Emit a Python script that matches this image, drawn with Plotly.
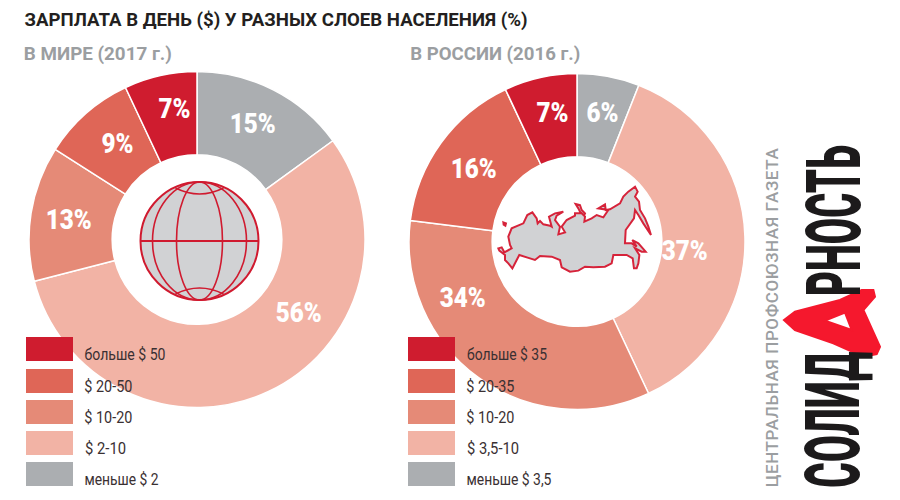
import json
import plotly.graph_objects as go

W = 900
H = 500

slice_colors = ["#abaeb1", "#f2b3a5", "#e58a77", "#df6657", "#cf1c2f"]
world_values = [15, 56, 13, 9, 7]
russia_values = [6, 37, 34, 16, 7]
world_legend = ["больше $ 50", "$ 20-50", "$ 10-20", "$ 2-10", "меньше $ 2"]
russia_legend = ["больше $ 35", "$ 20-35", "$ 10-20", "$ 3,5-10", "меньше $ 3,5"]
legend_colors = ["#cf1c2f", "#df6657", "#e58a77", "#f2b3a5", "#abaeb1"]

FONT = "Roboto"
RED = "#d01a2f"


def px(x):
    return x / W


def py(y):
    return 1 - y / H


def zoomed(points, left, top):
    return [(left + x / 3, top + y / 3) for x, y in points]


def path_from(points):
    out = []
    for i, (x, y) in enumerate(points):
        out.append(("M" if i == 0 else "L") + f"{px(x):.4f},{py(y):.4f}")
    return " ".join(out) + " Z"


def pie(values, x0, x1, y0, y1):
    return go.Pie(
        values=values,
        marker=dict(colors=slice_colors, line=dict(color="white", width=1.5)),
        hole=0.505,
        sort=False,
        direction="clockwise",
        rotation=0,
        textinfo="none",
        showlegend=False,
        domain=dict(x=[px(x0), px(x1)], y=[py(y1), py(y0)]),
    )


fig = go.Figure()
fig.add_trace(pie(world_values, 29, 365, 71, 408))
fig.add_trace(pie(russia_values, 409, 745, 73, 410))

shapes = []
annotations = []
fit_widths = []  # text length in px for each annotation, applied after the plot is drawn


def text(cx, cy, s, size, color, length, weight=400, angle=0, adjust="spacingAndGlyphs"):
    annotations.append(dict(
        x=px(cx), y=py(cy), xref="paper", yref="paper",
        text=s,
        showarrow=False, xanchor="center", yanchor="middle", textangle=angle,
        font=dict(family=FONT, size=size, color=color, weight=weight),
    ))
    fit_widths.append([length, adjust])


text(275.5, 20, "ЗАРПЛАТА В ДЕНЬ ($) У РАЗНЫХ СЛОЕВ НАСЕЛЕНИЯ (%)", 18, "#231f20", 503, 700)
text(98, 54, "В МИРЕ (2017 г.)", 18, "#9b9ea1", 148, 700)
text(495, 54, "В РОССИИ (2016 г.)", 18, "#9b9ea1", 170, 700)

# value labels
world_label_pos = [(253, 123), (298, 312), (68, 220), (117, 143), (174, 109)]
russia_label_pos = [(602, 113), (684, 250), (462, 297), (473, 168), (552, 113)]
for vals, positions in ((world_values, world_label_pos), (russia_values, russia_label_pos)):
    for v, (x, y) in zip(vals, positions):
        text(x, y, f"{v}%", 28, "white", 46 if v >= 10 else 32, 900)

# legends
swatch_tops = [337, 369, 400, 431, 462]
world_label_w = [81, 48, 48, 41, 74]
russia_label_w = [80, 48, 48, 52, 85]
for left, labels, widths in ((26, world_legend, world_label_w), (408, russia_legend, russia_label_w)):
    for top, label, color, w in zip(swatch_tops, labels, legend_colors, widths):
        shapes.append(dict(type="rect", xref="paper", yref="paper", x0=px(left), x1=px(left + 47),
                           y0=py(top), y1=py(top + 24), fillcolor=color, line_width=0))
        text(left + 58.5 + w / 2, top + 17, label, 17, "#3a3032", w)

# globe
gx, gy, gr = 199.5, 241, 59
shapes.append(dict(type="circle", xref="paper", yref="paper", x0=px(gx - gr), x1=px(gx + gr),
                   y0=py(gy + gr), y1=py(gy - gr), fillcolor="#d1d2d4", line=dict(color=RED, width=2)))
for rx in (23, 47):
    shapes.append(dict(type="circle", xref="paper", yref="paper", x0=px(gx - rx), x1=px(gx + rx),
                       y0=py(gy + gr), y1=py(gy - gr), line=dict(color=RED, width=1.6)))
shapes.append(dict(type="line", xref="paper", yref="paper", x0=px(gx - gr), x1=px(gx + gr),
                   y0=py(gy), y1=py(gy), line=dict(color=RED, width=2.2)))
for sign in (-1, 1):
    shapes.append(dict(type="path", xref="paper", yref="paper",
                       path=f"M{px(gx - 24):.4f},{py(gy + sign * 53):.4f} "
                            f"Q{px(gx):.4f},{py(gy + sign * 41):.4f} {px(gx + 24):.4f},{py(gy + sign * 53):.4f}",
                       line=dict(color=RED, width=1.6)))

# russia outline in three pieces: west, east, south coast
russia_west = zoomed([
    (10, 160), (20, 157), (28, 172), (50, 160), (45, 150), (40, 125), (50, 100), (85, 85), (97, 60), (112, 52),
    (125, 70), (128, 85), (135, 78), (145, 88), (165, 92), (170, 95), (162, 65), (180, 55), (205, 50), (185, 62),
    (180, 75), (195, 95), (190, 118), (210, 112), (200, 95), (215, 75), (240, 62),
], 495, 195)
russia_east = zoomed([
    (0, 100), (20, 100), (30, 110), (28, 125), (50, 115), (65, 105), (85, 112), (100, 90), (70, 85), (90, 73),
    (92, 90), (105, 88), (135, 70), (145, 50), (160, 35), (180, 20), (188, 35), (180, 50), (192, 65), (195, 90),
    (210, 115), (220, 140), (228, 165), (205, 130), (190, 105), (180, 90), (177, 115), (152, 150), (150, 190),
    (170, 190), (185, 200), (172, 180), (190, 190), (212, 215), (200, 215), (180, 205), (193, 225), (190, 250),
], 575, 180)
russia_south = zoomed([
    (470, 325), (462, 325), (458, 295), (440, 285), (400, 285), (395, 310), (375, 320), (340, 322), (315, 320),
    (295, 332), (270, 335), (245, 322), (240, 300), (215, 290), (180, 288), (165, 300), (150, 295), (118, 285),
    (110, 300), (97, 325), (85, 310), (75, 300), (75, 285), (58, 272),
], 480, 160)
novaya_zemlya = zoomed([(287, 132), (300, 135), (305, 150), (315, 160), (312, 166), (300, 155), (295, 145)], 480, 160)
kolguev = zoomed([(70, 187), (78, 190), (76, 197), (71, 194)], 480, 160)
russia_path = " ".join(path_from(p) for p in (russia_west + russia_east + russia_south, novaya_zemlya, kolguev))
shapes.append(dict(type="path", xref="paper", yref="paper", path=russia_path,
                   fillcolor="#d1d2d4", line=dict(color="#d6233a", width=2)))

# hand drawn red A of the logo
a_outer = [(162, 570), (195, 545), (330, 510), (395, 480), (430, 480), (435, 500), (400, 540), (450, 650),
           (440, 672), (400, 680), (310, 640), (195, 600)]
a_hole = [(285, 572), (365, 600), (345, 548)]
shapes.append(dict(type="path", xref="paper", yref="paper",
                   path=path_from(zoomed(a_outer, 730, 130)) + " " + path_from(zoomed(a_hole, 730, 130)),
                   fillcolor="#f5182d", line=dict(color="#f5182d", width=2)))

# logo text
text(771.5, 318, "ЦЕНТРАЛЬНАЯ ПРОФСОЮЗНАЯ ГАЗЕТА", 17, "#9b9ea1", 339, 500, -90, "spacing")
text(833, 420, "СОЛИД", 76, "#1c1a1b", 136, 900, -90)
text(833, 220.5, "РНОСТЬ", 76, "#1c1a1b", 151, 900, -90)

fig.update_layout(
    width=W,
    height=H,
    margin=dict(l=0, r=0, t=0, b=0),
    paper_bgcolor="white",
    plot_bgcolor="white",
    shapes=shapes,
    annotations=annotations,
)

# page margin off, and squeeze the annotation texts to the widths measured on the picture
post = """
document.body.style.margin = '0';
var fits = %s;
document.querySelectorAll('.annotation').forEach(function (g) {
  var i = +g.getAttribute('data-index');
  var t = g.querySelector('text.annotation-text');
  t.setAttribute('textLength', fits[i][0]);
  t.setAttribute('lengthAdjust', fits[i][1]);
});
""" % json.dumps(fit_widths)

fig.write_html("out.html", post_script=post, config=dict(displayModeBar=False))
